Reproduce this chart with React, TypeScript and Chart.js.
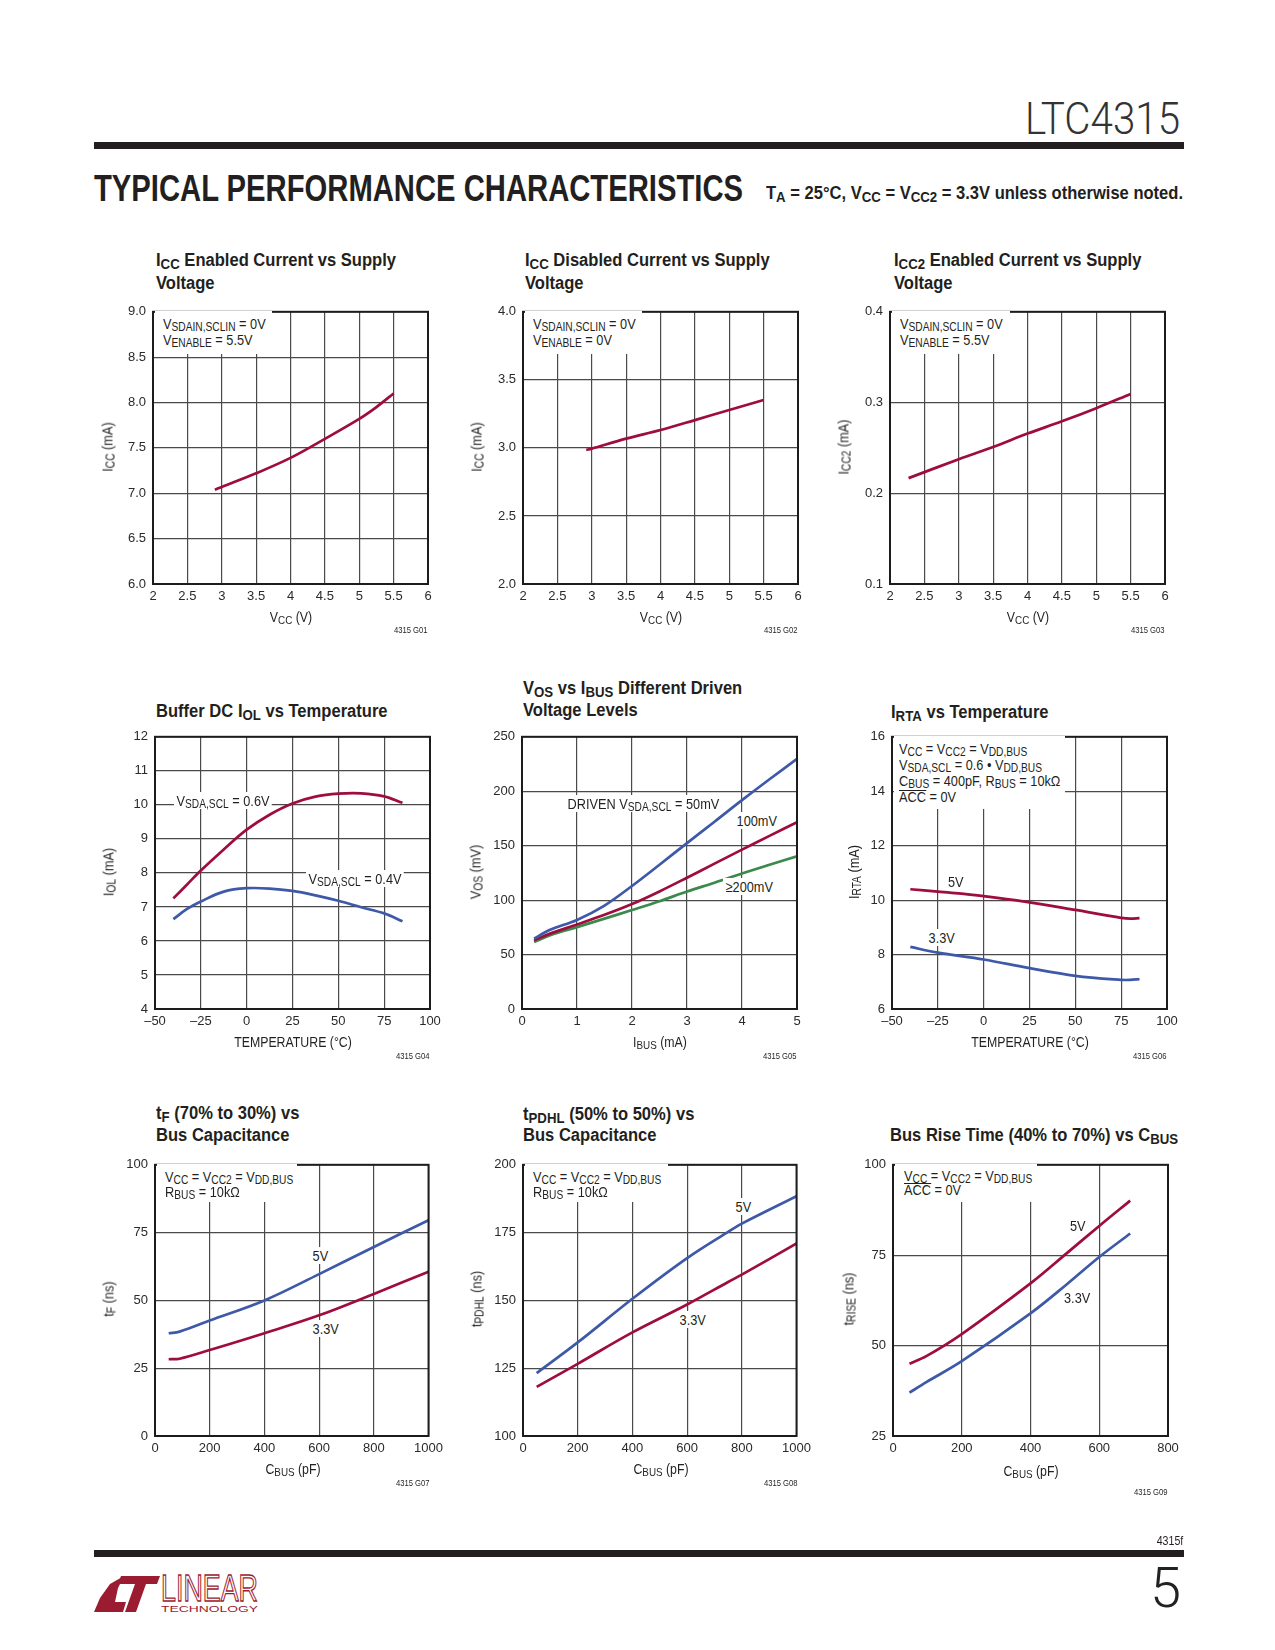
import React, { useEffect, useLayoutEffect, useRef } from 'react';
import { Chart, registerables } from 'chart.js';

Chart.register(...registerables);

const PAGE_W = 1275;
const SANS = "'Liberation Sans', Arial, sans-serif";
const NSX = 0.85; // horizontal compression to emulate a condensed face
const TSX = 0.92; // compression for bold titles
const INK = '#231f20';
const RED = '#9e0d3c';
const BLUE = '#3d59a8';
const GREEN = '#3b8a4b';
const GRID = '#4a4a4a';
const LOGO_RED = '#9b1b30';

// ---------- tick values and labels ----------
const voltTicks = [2, 2.5, 3, 3.5, 4, 4.5, 5, 5.5, 6];
const voltLabels = ['2', '2.5', '3', '3.5', '4', '4.5', '5', '5.5', '6'];
const iccEnTicks = [6, 6.5, 7, 7.5, 8, 8.5, 9];
const iccEnLabels = ['6.0', '6.5', '7.0', '7.5', '8.0', '8.5', '9.0'];
const iccDisTicks = [2, 2.5, 3, 3.5, 4];
const iccDisLabels = ['2.0', '2.5', '3.0', '3.5', '4.0'];
const icc2Ticks = [0.1, 0.2, 0.3, 0.4];
const icc2Labels = ['0.1', '0.2', '0.3', '0.4'];
const tempTicks = [-50, -25, 0, 25, 50, 75, 100];
const tempLabels = ['–50', '–25', '0', '25', '50', '75', '100'];
const iolTicks = [4, 5, 6, 7, 8, 9, 10, 11, 12];
const iolLabels = ['4', '5', '6', '7', '8', '9', '10', '11', '12'];
const ibusTicks = [0, 1, 2, 3, 4, 5];
const ibusLabels = ['0', '1', '2', '3', '4', '5'];
const vosTicks = [0, 50, 100, 150, 200, 250];
const vosLabels = ['0', '50', '100', '150', '200', '250'];
const irtaTicks = [6, 8, 10, 12, 14, 16];
const irtaLabels = ['6', '8', '10', '12', '14', '16'];
const cbusTicks = [0, 200, 400, 600, 800, 1000];
const cbusLabels = ['0', '200', '400', '600', '800', '1000'];
const cbus9Ticks = [0, 200, 400, 600, 800];
const cbus9Labels = ['0', '200', '400', '600', '800'];
const tfTicks = [0, 25, 50, 75, 100];
const tfLabels = ['0', '25', '50', '75', '100'];
const tpdTicks = [100, 125, 150, 175, 200];
const tpdLabels = ['100', '125', '150', '175', '200'];
const triseTicks = [25, 50, 75, 100];
const triseLabels = ['25', '50', '75', '100'];

// ---------- series data ----------
const g01Vcc = [2.9, 3, 3.5, 4, 4.5, 5, 5.25, 5.5];
const g01Icc = [7.04, 7.07, 7.22, 7.39, 7.6, 7.82, 7.95, 8.1];

const g02Vcc = [2.92, 3, 3.5, 4, 4.5, 5, 5.5];
const g02Icc = [2.985, 2.995, 3.068, 3.131, 3.204, 3.279, 3.352];

const g03Vcc = [2.27, 3, 3.5, 4, 4.5, 5, 5.5];
const g03Icc2 = [0.2167, 0.2375, 0.2509, 0.2658, 0.2793, 0.2938, 0.3095];

const g04Temp = [-40, -32.5, -25, -12.5, 0, 12.5, 25, 37.5, 50, 62.5, 75, 85];
const g04Iol06 = [7.25, 7.66, 8.07, 8.69, 9.27, 9.71, 10.04, 10.24, 10.33, 10.34, 10.25, 10.06];
const g04Iol04 = [6.64, 6.94, 7.16, 7.45, 7.55, 7.54, 7.47, 7.34, 7.18, 6.99, 6.81, 6.58];

const g05Ibus = [0.22, 0.5, 1, 1.5, 2, 2.5, 3, 3.5, 4, 4.5, 5];
const g05Vos50 = [64.5, 72.5, 81.8, 95, 113, 132.5, 152.4, 172, 191.8, 211, 229.7];
const g05Vos100 = [63, 69, 77.6, 86.5, 96.4, 108, 120.6, 133.5, 146.4, 159, 171.5];
const g05Vos200 = [61.5, 67.5, 75.2, 83, 90.9, 99, 107.9, 116, 124.5, 132.5, 140.3];

const g06Temp = [-40, -25, 0, 25, 50, 75, 80, 85];
const g06Irta5 = [10.4, 10.31, 10.15, 9.92, 9.64, 9.35, 9.32, 9.34];
const g06Irta33 = [8.28, 8.07, 7.82, 7.5, 7.22, 7.07, 7.07, 7.1];

const g07Cbus = [50, 90, 200, 400, 600, 800, 1000];
const g07Tf5 = [37.9, 38.5, 42.6, 50.0, 59.7, 69.7, 79.6];
const g07Tf33 = [28.3, 28.5, 31.7, 37.9, 44.5, 52.4, 60.6];

const g08Cbus = [50, 200, 400, 600, 750, 800, 1000];
const g08Tp5 = [123.2, 134.5, 150.6, 165.6, 175.3, 178.3, 188.4];
const g08Tp33 = [118.1, 126.6, 138.2, 148.5, 156.8, 159.5, 171.0];

const g09Cbus = [48, 97, 200, 400, 505, 600, 690];
const g09Tr5 = [45.0, 47.1, 53.2, 67.2, 75.5, 83.1, 90.1];
const g09Tr33 = [37.0, 39.9, 45.7, 58.9, 66.9, 74.5, 81.0];

// ---------- chart component ----------
const YW = 60;
const XH = 30;
const PT = 12;
const PR = 18;

type Series = { x: number[]; y: number[]; color: string };
type PlotProps = {
  left: number; top: number; w: number; h: number;
  xTicks: number[]; xLabels: string[];
  yTicks: number[]; yLabels: string[];
  series: Series[];
};

const framePlugin = {
  id: 'frame',
  afterDraw(chart: any) {
    const { ctx, chartArea: a } = chart;
    ctx.save();
    ctx.strokeStyle = '#1c1c1c';
    ctx.lineWidth = 2;
    ctx.strokeRect(a.left, a.top, a.right - a.left, a.bottom - a.top);
    ctx.restore();
  },
};

function Plot(p: PlotProps) {
  const ref = useRef<HTMLCanvasElement>(null);
  useEffect(() => {
    const tickFont = { family: SANS, size: 13 };
    const chart = new Chart(ref.current as HTMLCanvasElement, {
      type: 'line',
      data: {
        datasets: p.series.map((s) => ({
          data: s.x.map((x, i) => ({ x, y: s.y[i] })),
          borderColor: s.color,
          borderWidth: 2.7,
          pointRadius: 0,
          tension: 0.35,
          fill: false,
        })),
      },
      options: {
        animation: false,
        responsive: false,
        events: [],
        layout: { padding: { top: PT, right: PR, left: 0, bottom: 0 } },
        plugins: { legend: { display: false }, tooltip: { enabled: false } },
        scales: {
          x: {
            type: 'linear',
            min: p.xTicks[0],
            max: p.xTicks[p.xTicks.length - 1],
            afterBuildTicks: (s: any) => { s.ticks = p.xTicks.map((v) => ({ value: v })); },
            afterFit: (s: any) => { s.height = XH; },
            ticks: {
              autoSkip: false, maxRotation: 0, minRotation: 0, padding: 5,
              color: '#2a2a2a', font: tickFont,
              callback: (_v: any, i: number) => p.xLabels[i] ?? '',
            },
            grid: { color: GRID, lineWidth: 1.2, drawTicks: false },
            border: { display: false },
          },
          y: {
            type: 'linear',
            min: p.yTicks[0],
            max: p.yTicks[p.yTicks.length - 1],
            afterBuildTicks: (s: any) => { s.ticks = p.yTicks.map((v) => ({ value: v })); },
            afterFit: (s: any) => { s.width = YW; },
            ticks: {
              autoSkip: false, padding: 7,
              color: '#2a2a2a', font: tickFont,
              callback: (_v: any, i: number) => p.yLabels[i] ?? '',
            },
            grid: { color: GRID, lineWidth: 1.2, drawTicks: false },
            border: { display: false },
          },
        },
      } as any,
      plugins: [framePlugin],
    });
    return () => chart.destroy();
  }, []);
  const W = YW + p.w + PR;
  const H = PT + p.h + XH;
  return (
    <canvas
      ref={ref}
      width={W}
      height={H}
      style={{ position: 'absolute', left: p.left - YW, top: p.top - PT, width: W, height: H }}
    />
  );
}

// ---------- text helpers ----------
const Sb = ({ children }: { children: React.ReactNode }) => (
  <sub style={{ fontSize: '0.8em', verticalAlign: '-0.18em', lineHeight: 0 }}>{children}</sub>
);
const Ov = ({ children }: { children: React.ReactNode }) => (
  <span style={{ display: 'inline-block', borderTop: '1px solid currentColor', lineHeight: '0.84em' }}>{children}</span>
);

type TxtProps = {
  x: number; y: number; size?: number; bold?: boolean; weight?: number;
  align?: 'left' | 'center' | 'right'; bg?: boolean; color?: string; family?: string; sx?: number;
  children: React.ReactNode;
};
function Txt({ x, y, size = 15, bold = false, weight, align = 'left', bg = false, color = INK, family = SANS, sx, children }: TxtProps) {
  const k = sx ?? (bold ? TSX : NSX);
  const padX = bg ? 3 : 0;
  const padY = bg ? 1 : 0;
  const st: React.CSSProperties = {
    position: 'absolute',
    top: y - 0.8465 * size - padY,
    fontSize: size,
    lineHeight: `${size}px`,
    fontFamily: family,
    fontWeight: weight ?? (bold ? 700 : 400),
    color,
    whiteSpace: 'nowrap',
    padding: `${padY}px ${padX}px`,
    background: bg ? '#fff' : 'transparent',
  };
  if (align === 'left') {
    st.left = x - padX * k;
    st.transform = `scaleX(${k})`;
    st.transformOrigin = 'left center';
  } else if (align === 'right') {
    st.right = PAGE_W - x - padX * k;
    st.transform = `scaleX(${k})`;
    st.transformOrigin = 'right center';
  } else {
    st.left = x;
    st.transform = `translateX(-50%) scaleX(${k})`;
    st.transformOrigin = 'center center';
  }
  return <div style={st}>{children}</div>;
}

function Fit({ x, y, size, width, bold = false, weight, color = INK, family = SANS, extra, children }: {
  x: number; y: number; size: number; width: number; bold?: boolean; weight?: number; color?: string; family?: string;
  extra?: React.CSSProperties; children: React.ReactNode;
}) {
  const ref = useRef<HTMLDivElement>(null);
  useLayoutEffect(() => {
    const el = ref.current;
    if (!el) return;
    el.style.transform = 'none';
    const w = el.getBoundingClientRect().width;
    if (w > 0) el.style.transform = `scaleX(${width / w})`;
  });
  return (
    <div
      ref={ref}
      style={{
        position: 'absolute', left: x, top: y - 0.8465 * size, fontSize: size, lineHeight: `${size}px`,
        whiteSpace: 'nowrap', transformOrigin: 'left top', fontFamily: family,
        fontWeight: weight ?? (bold ? 700 : 400), color, ...extra,
      }}
    >
      {children}
    </div>
  );
}

const Box = ({ x1, y1, x2, y2 }: { x1: number; y1: number; x2: number; y2: number }) => (
  <div style={{ position: 'absolute', left: x1, top: y1, width: x2 - x1, height: y2 - y1, background: '#fff' }} />
);

const YTitle = ({ cx, cy, children }: { cx: number; cy: number; children: React.ReactNode }) => (
  <div
    style={{
      position: 'absolute', left: cx, top: cy, transform: `translate(-50%, -50%) rotate(-90deg) scaleX(${NSX})`,
      whiteSpace: 'nowrap', fontFamily: SANS, fontSize: 15, lineHeight: '15px', color: INK,
    }}
  >
    {children}
  </div>
);

const Bar = ({ top, h }: { top: number; h: number }) => (
  <div style={{ position: 'absolute', left: 94, top, width: 1090, height: h, background: INK }} />
);

const TS = 18; // title size
const AS = 15; // annotation size
const XS = 14.5; // axis title size
const FS = 9; // figure id size

export default function App() {
  return (
    <div style={{ position: 'relative', width: PAGE_W, height: 1650, background: '#fff', overflow: 'hidden' }}>
      <style>{'body{margin:0;background:#fff;}'}</style>

      {/* ---------- header ---------- */}
      <Fit x={1025} y={134.7} size={44} width={155} weight={300} family="Roboto, 'Liberation Sans', sans-serif" color="#333">LTC4315</Fit>
      <Bar top={142} h={7} />
      <Fit x={94} y={202} size={36.7} width={649} bold>TYPICAL PERFORMANCE CHARACTERISTICS</Fit>
      <Fit x={766} y={200} size={17.5} width={417} bold>
        T<Sb>A</Sb> = 25°C, V<Sb>CC</Sb> = V<Sb>CC2</Sb> = 3.3V unless otherwise noted.
      </Fit>

      {/* ---------- G01 ---------- */}
      <Txt x={156} y={266.7} size={TS} bold>I<Sb>CC</Sb> Enabled Current vs Supply</Txt>
      <Txt x={156} y={289.3} size={TS} bold>Voltage</Txt>
      <Plot left={153} top={309} w={275} h={275} xTicks={voltTicks} xLabels={voltLabels} yTicks={iccEnTicks} yLabels={iccEnLabels}
        series={[{ x: g01Vcc, y: g01Icc, color: RED }]} />
      <Box x1={154.5} y1={310.5} x2={272} y2={354} />
      <Txt x={162.7} y={329} size={AS}>V<Sb>SDAIN,SCLIN</Sb> = 0V</Txt>
      <Txt x={162.7} y={345} size={AS}>V<Sb>ENABLE</Sb> = 5.5V</Txt>
      <YTitle cx={106.7} cy={446.5}>I<Sb>CC</Sb> (mA)</YTitle>
      <Txt x={290.5} y={622.5} size={XS} align="center">V<Sb>CC</Sb> (V)</Txt>
      <Txt x={428} y={634} size={FS} align="right">4315 G01</Txt>

      {/* ---------- G02 ---------- */}
      <Txt x={525} y={266.7} size={TS} bold>I<Sb>CC</Sb> Disabled Current vs Supply</Txt>
      <Txt x={525} y={289.3} size={TS} bold>Voltage</Txt>
      <Plot left={523} top={309} w={275} h={275} xTicks={voltTicks} xLabels={voltLabels} yTicks={iccDisTicks} yLabels={iccDisLabels}
        series={[{ x: g02Vcc, y: g02Icc, color: RED }]} />
      <Box x1={524.5} y1={310.5} x2={642} y2={354} />
      <Txt x={532.7} y={329} size={AS}>V<Sb>SDAIN,SCLIN</Sb> = 0V</Txt>
      <Txt x={532.7} y={345} size={AS}>V<Sb>ENABLE</Sb> = 0V</Txt>
      <YTitle cx={476} cy={446.5}>I<Sb>CC</Sb> (mA)</YTitle>
      <Txt x={660.5} y={622.5} size={XS} align="center">V<Sb>CC</Sb> (V)</Txt>
      <Txt x={798} y={634} size={FS} align="right">4315 G02</Txt>

      {/* ---------- G03 ---------- */}
      <Txt x={894} y={266.7} size={TS} bold>I<Sb>CC2</Sb> Enabled Current vs Supply</Txt>
      <Txt x={894} y={289.3} size={TS} bold>Voltage</Txt>
      <Plot left={890} top={309} w={275} h={275} xTicks={voltTicks} xLabels={voltLabels} yTicks={icc2Ticks} yLabels={icc2Labels}
        series={[{ x: g03Vcc, y: g03Icc2, color: RED }]} />
      <Box x1={891.5} y1={310.5} x2={1010} y2={354} />
      <Txt x={900} y={329} size={AS}>V<Sb>SDAIN,SCLIN</Sb> = 0V</Txt>
      <Txt x={900} y={345} size={AS}>V<Sb>ENABLE</Sb> = 5.5V</Txt>
      <YTitle cx={843} cy={446.5}>I<Sb>CC2</Sb> (mA)</YTitle>
      <Txt x={1027.5} y={622.5} size={XS} align="center">V<Sb>CC</Sb> (V)</Txt>
      <Txt x={1165} y={634} size={FS} align="right">4315 G03</Txt>

      {/* ---------- G04 ---------- */}
      <Txt x={156} y={717} size={TS} bold>Buffer DC I<Sb>OL</Sb> vs Temperature</Txt>
      <Plot left={155} top={734} w={275} h={275} xTicks={tempTicks} xLabels={tempLabels} yTicks={iolTicks} yLabels={iolLabels}
        series={[{ x: g04Temp, y: g04Iol06, color: RED }, { x: g04Temp, y: g04Iol04, color: BLUE }]} />
      <Txt x={176.7} y={805.7} size={AS} bg>V<Sb>SDA,SCL</Sb> = 0.6V</Txt>
      <Txt x={308.7} y={883.3} size={AS} bg>V<Sb>SDA,SCL</Sb> = 0.4V</Txt>
      <YTitle cx={108} cy={871.5}>I<Sb>OL</Sb> (mA)</YTitle>
      <Txt x={292.5} y={1047.5} size={XS} align="center">TEMPERATURE (°C)</Txt>
      <Txt x={430} y={1059.5} size={FS} align="right">4315 G04</Txt>

      {/* ---------- G05 ---------- */}
      <Txt x={523.3} y={694} size={TS} bold>V<Sb>OS</Sb> vs I<Sb>BUS</Sb> Different Driven</Txt>
      <Txt x={523.3} y={716.7} size={TS} bold>Voltage Levels</Txt>
      <Plot left={522} top={734} w={275} h={275} xTicks={ibusTicks} xLabels={ibusLabels} yTicks={vosTicks} yLabels={vosLabels}
        series={[
          { x: g05Ibus, y: g05Vos50, color: BLUE },
          { x: g05Ibus, y: g05Vos100, color: RED },
          { x: g05Ibus, y: g05Vos200, color: GREEN },
        ]} />
      <Txt x={567.3} y={808.3} size={AS} bg>DRIVEN V<Sb>SDA,SCL</Sb> = 50mV</Txt>
      <Txt x={736.7} y={826} size={AS} bg>100mV</Txt>
      <Txt x={726} y={891.7} size={AS} bg>≥200mV</Txt>
      <YTitle cx={475} cy={871.5}>V<Sb>OS</Sb> (mV)</YTitle>
      <Txt x={659.5} y={1047.5} size={XS} align="center">I<Sb>BUS</Sb> (mA)</Txt>
      <Txt x={797} y={1059.5} size={FS} align="right">4315 G05</Txt>

      {/* ---------- G06 ---------- */}
      <Txt x={891} y={718} size={TS} bold>I<Sb>RTA</Sb> vs Temperature</Txt>
      <Plot left={892} top={734} w={275} h={275} xTicks={tempTicks} xLabels={tempLabels} yTicks={irtaTicks} yLabels={irtaLabels}
        series={[{ x: g06Temp, y: g06Irta5, color: RED }, { x: g06Temp, y: g06Irta33, color: BLUE }]} />
      <Box x1={893.5} y1={735.5} x2={1065} y2={809.3} />
      <Txt x={899.3} y={753.3} size={AS}>V<Sb>CC</Sb> = V<Sb>CC2</Sb> = V<Sb>DD,BUS</Sb></Txt>
      <Txt x={899.3} y={769.3} size={AS}>V<Sb>SDA,SCL</Sb> = 0.6 • V<Sb>DD,BUS</Sb></Txt>
      <Txt x={899.3} y={785.3} size={AS}>C<Sb>BUS</Sb> = 400pF, R<Sb>BUS</Sb> = 10kΩ</Txt>
      <Txt x={899.3} y={801.7} size={AS}><Ov>ACC</Ov> = 0V</Txt>
      <Txt x={948.3} y={886.7} size={AS}>5V</Txt>
      <Txt x={928.3} y={942.7} size={AS} bg>3.3V</Txt>
      <YTitle cx={853} cy={871.5}>I<Sb>RTA</Sb> (mA)</YTitle>
      <Txt x={1029.5} y={1047.5} size={XS} align="center">TEMPERATURE (°C)</Txt>
      <Txt x={1167} y={1059.5} size={FS} align="right">4315 G06</Txt>

      {/* ---------- G07 ---------- */}
      <Txt x={156} y={1119.5} size={TS} bold>t<Sb>F</Sb> (70% to 30%) vs</Txt>
      <Txt x={156} y={1141} size={TS} bold>Bus Capacitance</Txt>
      <Plot left={155} top={1162} w={275} h={274} xTicks={cbusTicks} xLabels={cbusLabels} yTicks={tfTicks} yLabels={tfLabels}
        series={[{ x: g07Cbus, y: g07Tf5, color: BLUE }, { x: g07Cbus, y: g07Tf33, color: RED }]} />
      <Box x1={156.5} y1={1163.5} x2={297} y2={1202.3} />
      <Txt x={165} y={1181.7} size={AS}>V<Sb>CC</Sb> = V<Sb>CC2</Sb> = V<Sb>DD,BUS</Sb></Txt>
      <Txt x={165} y={1196.7} size={AS}>R<Sb>BUS</Sb> = 10kΩ</Txt>
      <Txt x={312.3} y={1260.7} size={AS} bg>5V</Txt>
      <Txt x={312.3} y={1334} size={AS} bg>3.3V</Txt>
      <YTitle cx={108} cy={1299}>t<Sb>F</Sb> (ns)</YTitle>
      <Txt x={292.5} y={1474.5} size={XS} align="center">C<Sb>BUS</Sb> (pF)</Txt>
      <Txt x={430} y={1486.5} size={FS} align="right">4315 G07</Txt>

      {/* ---------- G08 ---------- */}
      <Txt x={523.3} y={1120.7} size={TS} bold>t<Sb>PDHL</Sb> (50% to 50%) vs</Txt>
      <Txt x={523.3} y={1141.7} size={TS} bold>Bus Capacitance</Txt>
      <Plot left={523} top={1162} w={275} h={274} xTicks={cbusTicks} xLabels={cbusLabels} yTicks={tpdTicks} yLabels={tpdLabels}
        series={[{ x: g08Cbus, y: g08Tp5, color: BLUE }, { x: g08Cbus, y: g08Tp33, color: RED }]} />
      <Box x1={524.5} y1={1163.5} x2={668} y2={1202.3} />
      <Txt x={532.7} y={1182} size={AS}>V<Sb>CC</Sb> = V<Sb>CC2</Sb> = V<Sb>DD,BUS</Sb></Txt>
      <Txt x={532.7} y={1197} size={AS}>R<Sb>BUS</Sb> = 10kΩ</Txt>
      <Txt x={735.3} y={1211.7} size={AS} bg>5V</Txt>
      <Txt x={680} y={1325} size={AS} bg>3.3V</Txt>
      <YTitle cx={475.5} cy={1299}>t<Sb>PDHL</Sb> (ns)</YTitle>
      <Txt x={660.5} y={1474.5} size={XS} align="center">C<Sb>BUS</Sb> (pF)</Txt>
      <Txt x={798} y={1486.5} size={FS} align="right">4315 G08</Txt>

      {/* ---------- G09 ---------- */}
      <Txt x={890} y={1141.7} size={TS} bold>Bus Rise Time (40% to 70%) vs C<Sb>BUS</Sb></Txt>
      <Plot left={893} top={1162} w={275} h={274} xTicks={cbus9Ticks} xLabels={cbus9Labels} yTicks={triseTicks} yLabels={triseLabels}
        series={[{ x: g09Cbus, y: g09Tr5, color: RED }, { x: g09Cbus, y: g09Tr33, color: BLUE }]} />
      <Box x1={894.5} y1={1163.5} x2={1037} y2={1201.7} />
      <Txt x={904.3} y={1180.7} size={AS}>V<Sb>CC</Sb> = V<Sb>CC2</Sb> = V<Sb>DD,BUS</Sb></Txt>
      <Txt x={904.3} y={1195} size={AS}><Ov>ACC</Ov> = 0V</Txt>
      <Txt x={1070} y={1230.7} size={AS}>5V</Txt>
      <Txt x={1064.3} y={1302.7} size={AS}>3.3V</Txt>
      <YTitle cx={848} cy={1299}>t<Sb>RISE</Sb> (ns)</YTitle>
      <Txt x={1030.5} y={1476} size={XS} align="center">C<Sb>BUS</Sb> (pF)</Txt>
      <Txt x={1168} y={1496} size={FS} align="right">4315 G09</Txt>

      {/* ---------- footer ---------- */}
      <Txt x={1183} y={1546} size={12.5} align="right">4315f</Txt>
      <Bar top={1550} h={6.5} />
      <Txt x={1181} y={1607.5} size={56} align="right" weight={300} sx={1} family="Roboto, 'Liberation Sans', sans-serif" color="#222">5</Txt>
      <svg style={{ position: 'absolute', left: 94, top: 1574 }} width={66} height={40} viewBox="0 0 66 40">
        <polygon points="0,38 6,24 16,10 30,2 24,14 21,28 32,28 29,38" fill={LOGO_RED} />
        <polygon points="27,2 66,2 63,10 24,10" fill={LOGO_RED} />
        <polygon points="41,10 52,10 42,38 31,38" fill={LOGO_RED} />
      </svg>
      <Fit x={161} y={1601.5} size={37} width={97} color="#fff" extra={{ WebkitTextStroke: `1.3px ${LOGO_RED}` } as any}>LINEAR</Fit>
      <Fit x={161} y={1612} size={9.5} width={97} color={LOGO_RED}>TECHNOLOGY</Fit>
    </div>
  );
}
